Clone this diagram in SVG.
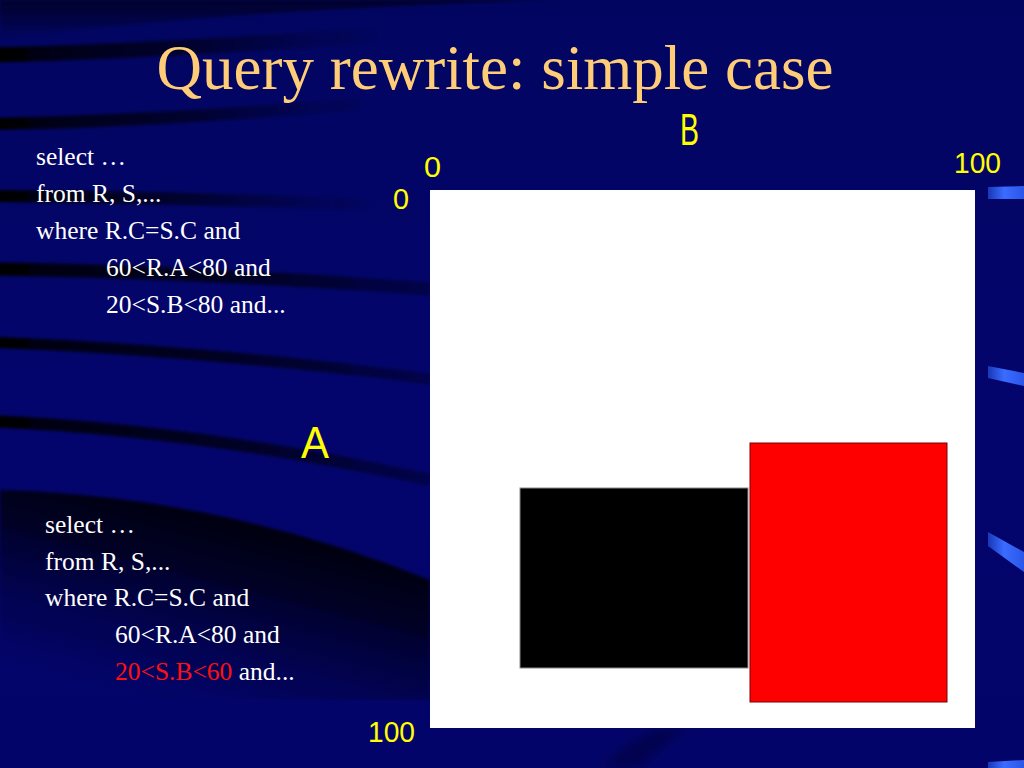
<svg xmlns="http://www.w3.org/2000/svg" width="1024" height="768" viewBox="0 0 1024 768">
  <defs>
    <linearGradient id="bg" x1="0" y1="0" x2="0" y2="1">
      <stop offset="0" stop-color="#020560"/>
      <stop offset="0.5" stop-color="#03056c"/>
      <stop offset="1" stop-color="#03046a"/>
    </linearGradient>
    <linearGradient id="fadeR" gradientUnits="userSpaceOnUse" x1="0" y1="0" x2="440" y2="0">
      <stop offset="0" stop-color="#000005" stop-opacity="1"/>
      <stop offset="0.5" stop-color="#000010" stop-opacity="0.8"/>
      <stop offset="1" stop-color="#000020" stop-opacity="0.45"/>
    </linearGradient>
    <linearGradient id="fadeShort" gradientUnits="userSpaceOnUse" x1="0" y1="0" x2="380" y2="0">
      <stop offset="0" stop-color="#000005" stop-opacity="1"/>
      <stop offset="0.5" stop-color="#000010" stop-opacity="0.65"/>
      <stop offset="1" stop-color="#000020" stop-opacity="0"/>
    </linearGradient>
    <linearGradient id="topDark" gradientUnits="userSpaceOnUse" x1="0" y1="0" x2="0" y2="40">
      <stop offset="0" stop-color="#000020" stop-opacity="0.85"/>
      <stop offset="1" stop-color="#000020" stop-opacity="0"/>
    </linearGradient>
    <linearGradient id="bigDark" gradientUnits="userSpaceOnUse" x1="200" y1="505" x2="150" y2="700">
      <stop offset="0" stop-color="#000008" stop-opacity="1"/>
      <stop offset="0.4" stop-color="#000018" stop-opacity="0.7"/>
      <stop offset="1" stop-color="#000030" stop-opacity="0"/>
    </linearGradient>
    <linearGradient id="bar" gradientUnits="objectBoundingBox" x1="0" y1="0" x2="1" y2="0">
      <stop offset="0" stop-color="#1a36b8"/>
      <stop offset="0.45" stop-color="#3a6cff"/>
      <stop offset="1" stop-color="#2a56e8"/>
    </linearGradient>
    <filter id="soft" x="-10%" y="-50%" width="120%" height="200%">
      <feGaussianBlur stdDeviation="1.8"/>
    </filter>
    <filter id="softer" x="-10%" y="-50%" width="120%" height="200%">
      <feGaussianBlur stdDeviation="6"/>
    </filter>
    <style>
      .band { fill: none; stroke-linecap: butt; }
      .body { font-family: "Liberation Serif", "Times New Roman", serif; font-size: 25.5px; fill: #ffffff; }
      .hl { fill: #ff1010; }
      .title { font-family: "Liberation Serif", "Times New Roman", serif; font-size: 63px; fill: #ffcc77; }
      .axis { font-family: "Liberation Sans", Arial, sans-serif; fill: #ffff00; }
      .num { font-size: 29px; }
      .big { font-size: 44px; }
    </style>
  </defs>

  <g id="background">
    <rect x="0" y="0" width="1024" height="768" fill="url(#bg)"/>
    <path d="M0 0 L560 0 Q260 8 0 38 Z" fill="url(#topDark)" filter="url(#soft)"/>
    <g filter="url(#soft)">
      <path class="band" d="M-10 55 Q150 52 420 32" stroke="url(#fadeShort)" stroke-width="15"/>
      <path class="band" d="M-10 124 Q160 121 360 104" stroke="url(#fadeShort)" stroke-width="12"/>
      <path class="band" d="M-10 196 Q160 197 430 206" stroke="url(#fadeShort)" stroke-width="12"/>
      <path class="band" d="M-10 269 Q200 272 430 289" stroke="url(#fadeR)" stroke-width="13"/>
      <path class="band" d="M-10 342 Q200 350 430 379" stroke="url(#fadeR)" stroke-width="11"/>
      <path class="band" d="M-10 421 Q200 430 430 480" stroke="url(#fadeR)" stroke-width="12"/>
    </g>
    <path d="M0 490 Q220 496 430 580 L430 700 L0 700 Z" fill="url(#bigDark)" filter="url(#soft)"/>
    <path d="M600 768 Q630 740 660 728 L690 728 Q660 745 640 768 Z" fill="#000030" fill-opacity="0.5" filter="url(#softer)"/>
  </g>

  <g id="edge-bars">
    <polygon points="988,187 1024,186 1024,199 988,199" fill="url(#bar)"/>
    <polygon points="988,366 1024,373 1024,386 988,378" fill="url(#bar)"/>
    <polygon points="988,532 1024,552 1024,572 988,546" fill="url(#bar)"/>
    <polygon points="988,762 1024,760 1024,768 988,768" fill="url(#bar)"/>
  </g>

  <text id="title" class="title" x="495" y="89" text-anchor="middle">Query rewrite: simple case</text>

  <g id="query-original" class="body">
    <text x="36" y="165">select …</text>
    <text x="36" y="202">from R, S,...</text>
    <text x="36" y="239">where R.C=S.C and</text>
    <text x="106" y="276">60&lt;R.A&lt;80 and</text>
    <text x="106" y="313">20&lt;S.B&lt;80 and...</text>
  </g>

  <g id="query-rewritten" class="body">
    <text x="45" y="533">select …</text>
    <text x="45" y="570">from R, S,...</text>
    <text x="45" y="606">where R.C=S.C and</text>
    <text x="115" y="643">60&lt;R.A&lt;80 and</text>
    <text x="115" y="680"><tspan class="hl">20&lt;S.B&lt;60</tspan> and...</text>
  </g>

  <g id="plot">
    <rect id="domain" x="430" y="190" width="545" height="538" fill="#ffffff"/>
    <rect id="query-region" x="520" y="488" width="228" height="180" fill="#000000" stroke="#8a8a8a" stroke-width="1"/>
    <rect id="view-region" x="750" y="443" width="197" height="259" fill="#ff0000" stroke="#7a0000" stroke-width="1"/>
  </g>

  <g id="axis-labels" class="axis">
    <text class="big" x="680" y="145" textLength="19" lengthAdjust="spacingAndGlyphs">B</text>
    <text class="big" x="301" y="458" textLength="28" lengthAdjust="spacingAndGlyphs">A</text>
    <text class="num" x="424" y="177" textLength="17" lengthAdjust="spacingAndGlyphs">0</text>
    <text class="num" x="954" y="173" textLength="47" lengthAdjust="spacingAndGlyphs">100</text>
    <text class="num" x="393" y="209" textLength="16" lengthAdjust="spacingAndGlyphs">0</text>
    <text class="num" x="368" y="742" textLength="47" lengthAdjust="spacingAndGlyphs">100</text>
  </g>
</svg>
